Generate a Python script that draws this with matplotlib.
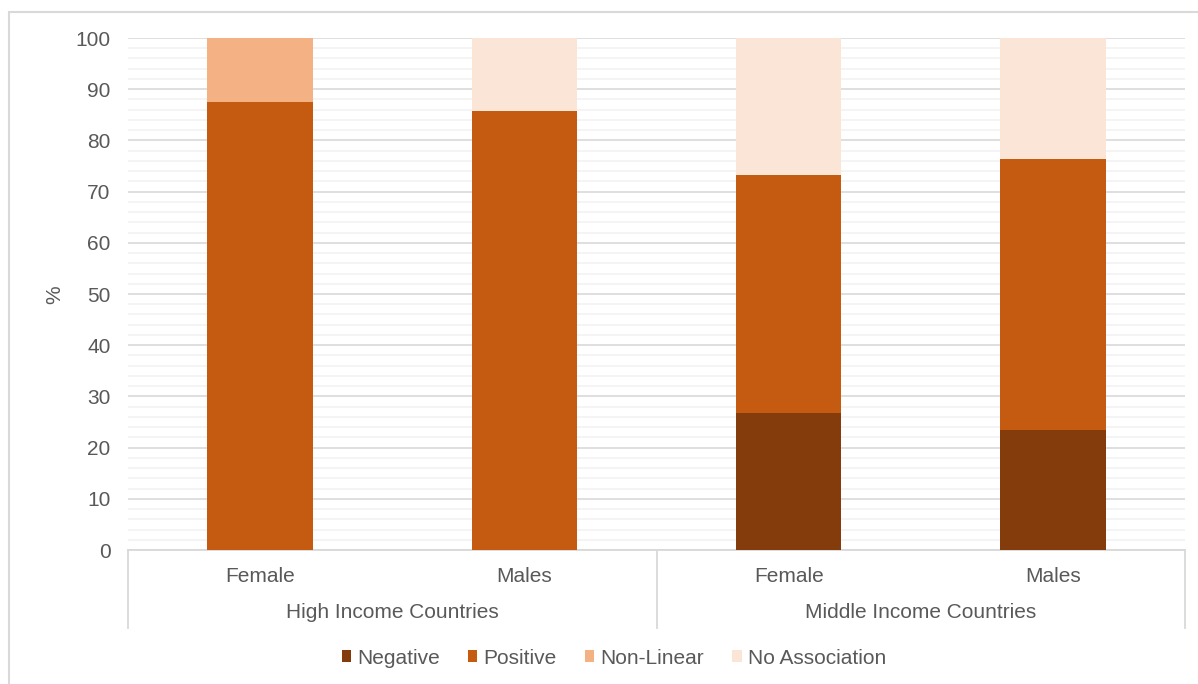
import matplotlib
matplotlib.use("Agg")
import matplotlib.pyplot as plt
from matplotlib.patches import Rectangle, Patch
from matplotlib.lines import Line2D
import numpy as np

# ---- data ----
groups = ["High Income Countries", "Middle Income Countries"]
sexes = ["Female", "Males", "Female", "Males"]
series_names = ["Negative", "Positive", "Non-Linear", "No Association"]
negative = [0.0, 0.0, 26.7, 23.5]
positive = [87.5, 85.7, 46.6, 52.9]
non_linear = [12.5, 0.0, 0.0, 0.0]
no_association = [0.0, 14.3, 26.7, 23.6]
y_ticks = [0, 10, 20, 30, 40, 50, 60, 70, 80, 90, 100]

colors = ["#843C0C", "#C55A11", "#F4B183", "#FBE5D6"]
text_color = "#595959"

plt.rcParams["font.family"] = ["Liberation Sans", "DejaVu Sans"]
FS = 15

W, H = 1198, 684
fig = plt.figure(figsize=(W / 100, H / 100), dpi=100)

# outer border
fig.patches.append(Rectangle((9 / W, -0.05), 1.2, 1 - 12 / H + 0.05,
                             transform=fig.transFigure, fill=False,
                             edgecolor="#D9D9D9", linewidth=1.5))

left, right, top, bottom = 128, 1185, 38, 550
ax = fig.add_axes([left / W, 1 - bottom / H, (right - left) / W, (bottom - top) / H])

x = np.arange(len(sexes))
data = [negative, positive, non_linear, no_association]
base = np.zeros(len(sexes))
for vals, name, c in zip(data, series_names, colors):
    ax.bar(x, vals, width=0.4, bottom=base, color=c, label=name, zorder=3)
    base = base + np.array(vals)

ax.set_xlim(-0.5, len(sexes) - 0.5)
ax.set_ylim(0, 100)
ax.set_yticks(y_ticks)
ax.set_yticks(np.arange(0, 101, 2), minor=True)
ax.tick_params(axis="y", which="both", length=0, pad=12.5, labelsize=FS, labelcolor=text_color)
ax.tick_params(axis="x", which="both", length=0, labelbottom=False)
ax.grid(axis="y", which="major", color="#D9D9D9", linewidth=1.2, zorder=0)
ax.grid(axis="y", which="minor", color="#F2F2F2", linewidth=1.2, zorder=0)
for s in ["top", "right", "left"]:
    ax.spines[s].set_visible(False)
ax.spines["bottom"].set_color("#D9D9D9")
ax.spines["bottom"].set_linewidth(1.3)

ax.set_ylabel("%", fontsize=FS, color=text_color, va="center", ha="center")
ax.yaxis.set_label_coords((55 - left) / (right - left), (bottom - 295) / (bottom - top))

# multi-level category axis
tr = ax.get_xaxis_transform()
ph = bottom - top
y_sex = -(577 - bottom) / ph
y_grp = -(613 - bottom) / ph
y_line = -(628 - bottom) / ph
for xi, s in zip(x, sexes):
    ax.text(xi, y_sex, s, transform=tr, ha="center", va="center", fontsize=FS, color=text_color)
for gi, g in enumerate(groups):
    ax.text(gi * 2 + 0.5, y_grp, g, transform=tr, ha="center", va="center", fontsize=FS, color=text_color)
for xv in [-0.5, 1.5, 3.5]:
    ax.add_line(Line2D([xv, xv], [0, y_line], transform=tr, color="#D9D9D9", linewidth=1.3, clip_on=False))

handles = [Patch(facecolor=c, edgecolor="none") for c in colors]
fig.legend(handles, series_names, loc="center", bbox_to_anchor=(614 / W, 1 - 658 / H),
           ncol=4, frameon=False, fontsize=FS, handlelength=0.45, handleheight=0.45,
           handletextpad=0.3, columnspacing=1.35, labelcolor=text_color)

fig.savefig("out.png", dpi=100)
